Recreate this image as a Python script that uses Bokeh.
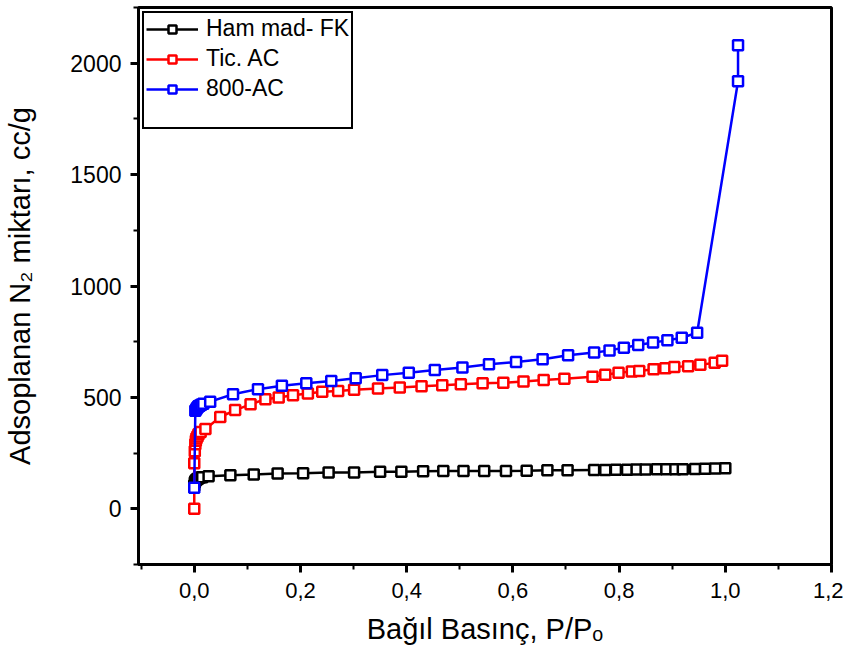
from bokeh.plotting import figure
from bokeh.models import Range1d, FixedTicker, CustomJSTickFormatter, Legend, LegendItem, LinearAxis
from bokeh.embed import file_html
from bokeh.resources import INLINE

# ---- data ----
ham_x = [0.0, 0.001, 0.002, 0.004, 0.006, 0.008, 0.011, 0.015, 0.027, 0.068, 0.112, 0.157,
         0.205, 0.253, 0.301, 0.35, 0.39, 0.431, 0.469, 0.507, 0.546, 0.587, 0.626, 0.665,
         0.703, 0.753, 0.774, 0.794, 0.815, 0.833, 0.85, 0.871, 0.889, 0.906, 0.92, 0.943,
         0.962, 0.981, 1.0]
ham_y = [105, 118, 125, 130, 134, 137, 140, 142, 146, 151, 154, 158,
         160, 163, 163, 166, 166, 169, 170, 170, 170, 170, 171, 173,
         173, 174, 174, 175, 175, 176, 176, 177, 177, 178, 178, 179,
         180, 181, 182]

tic_x = [0.0, 0.0, 0.001, 0.002, 0.003, 0.004, 0.006, 0.008, 0.012, 0.021, 0.049, 0.077,
         0.106, 0.134, 0.159, 0.186, 0.214, 0.241, 0.271, 0.301, 0.346, 0.387, 0.428, 0.467,
         0.502, 0.543, 0.582, 0.62, 0.658, 0.697, 0.75, 0.774, 0.799, 0.824, 0.838, 0.865,
         0.887, 0.904, 0.93, 0.953, 0.98, 0.994]
tic_y = [0, 205, 258, 290, 305, 315, 325, 335, 345, 358, 412, 443,
         469, 492, 500, 510, 517, 525, 529, 534, 540, 544, 550, 555,
         559, 564, 566, 571, 578, 584, 593, 602, 611, 616, 619, 626,
         631, 637, 640, 646, 656, 664]

ac_x = [0.0, 0.002, 0.004, 0.006, 0.008, 0.010, 0.013, 0.017, 0.030, 0.073, 0.120, 0.165,
        0.211, 0.258, 0.304, 0.354, 0.404, 0.453, 0.505, 0.555, 0.606, 0.656, 0.704, 0.753,
        0.782, 0.809, 0.836, 0.864, 0.891, 0.918, 0.947, 1.024, 1.024]
ac_y = [95, 440, 448, 455, 460, 463, 467, 472, 481, 514, 537, 552,
        564, 574, 586, 600, 611, 623, 634, 649, 659, 671, 689, 701,
        711, 723, 735, 746, 756, 768, 790, 1919, 2081]

series_names = ["Ham mad- FK", "Tic. AC", "800-AC"]
series_colors = ["black", "red", "blue"]

x_ticks = [0.0, 0.2, 0.4, 0.6, 0.8, 1.0, 1.2]
x_minor = [-0.1, 0.1, 0.3, 0.5, 0.7, 0.9, 1.1]
y_ticks = [0, 500, 1000, 1500, 2000]
y_minor = [-250, 250, 750, 1250, 1750, 2250]

x_title = "Bağıl Basınç, P/Pₒ"
y_title = "Adsoplanan N₂ miktarı, cc/g"

REG = "'Liberation Sans', Arial, sans-serif"

p = figure(width=843, height=650, output_backend="svg", toolbar_location=None,
           x_range=Range1d(-0.105, 1.2), y_range=Range1d(-250, 2250),
           min_border_left=138, min_border_right=12, min_border_top=7, min_border_bottom=86)
p.grid.visible = False
p.outline_line_color = "black"
p.outline_line_width = 3
p.outline_line_alpha = 1.0
p.background_fill_color = "white"
p.border_fill_color = "white"

# axes
for ax in (p.xaxis[0], p.yaxis[0]):
    ax.axis_line_width = 3
    ax.axis_line_color = "black"
    ax.major_tick_line_width = 3
    ax.minor_tick_line_width = 2
    ax.major_tick_out = 8
    ax.major_tick_in = 0
    ax.minor_tick_out = 5
    ax.minor_tick_in = 0
    ax.major_label_text_color = "black"

p.xaxis.ticker = FixedTicker(ticks=x_ticks, minor_ticks=x_minor)
p.xaxis.formatter = CustomJSTickFormatter(code="return tick.toFixed(1).replace('.', ',');")
p.xaxis.major_label_text_font = REG
p.xaxis.major_label_text_font_size = "22px"
p.xaxis.major_label_standoff = 10
p.xaxis.axis_label = x_title
p.xaxis.axis_label_text_font = REG
p.xaxis.axis_label_text_font_size = "29px"
p.xaxis.axis_label_text_font_style = "normal"
p.xaxis.axis_label_text_color = "black"
p.xaxis.axis_label_standoff = 12

p.yaxis.ticker = FixedTicker(ticks=y_ticks, minor_ticks=y_minor)
p.yaxis.major_label_text_font = REG
p.yaxis.major_label_text_font_size = "23px"
p.yaxis.major_label_standoff = 9

# y title carried by an outer, tick-less axis whose bounds set where the title is centred
ytitle_axis = LinearAxis(axis_label=y_title, ticker=FixedTicker(ticks=[]), bounds=(-56, 2250),
                         axis_line_alpha=0, major_tick_out=0, major_tick_in=0,
                         minor_tick_out=0, minor_tick_in=0,
                         major_label_text_font_size="0px",
                         axis_label_text_font=REG, axis_label_text_font_size="29px",
                         axis_label_text_font_style="normal", axis_label_text_color="black",
                         axis_label_standoff=32)
p.add_layout(ytitle_axis, "left")

# series
data = [(ham_x, ham_y), (tic_x, tic_y), (ac_x, ac_y)]
items = []
for (xs, ys), name, col in zip(data, series_names, series_colors):
    lr = p.line(xs, ys, line_color=col, line_width=2.5)
    sr = p.scatter(xs, ys, marker="square", size=10, line_color=col, fill_color="white", line_width=2.5)
    items.append(LegendItem(label=name, renderers=[lr, sr]))

dummy = p.line([], [], line_alpha=0)
items.append(LegendItem(label=" ", renderers=[dummy]))

legend = Legend(items=items, location="top_left")
legend.label_text_font = REG
legend.label_text_font_size = "23px"
legend.label_text_color = "black"
legend.glyph_width = 52
legend.glyph_height = 20
legend.label_standoff = 8
legend.padding = 2
legend.spacing = 3
legend.margin = 4
legend.border_line_color = "black"
legend.border_line_width = 2
legend.border_line_alpha = 1.0
legend.background_fill_color = "white"
legend.background_fill_alpha = 1.0
p.add_layout(legend)

open("out.html", "w").write(file_html(p, INLINE))
